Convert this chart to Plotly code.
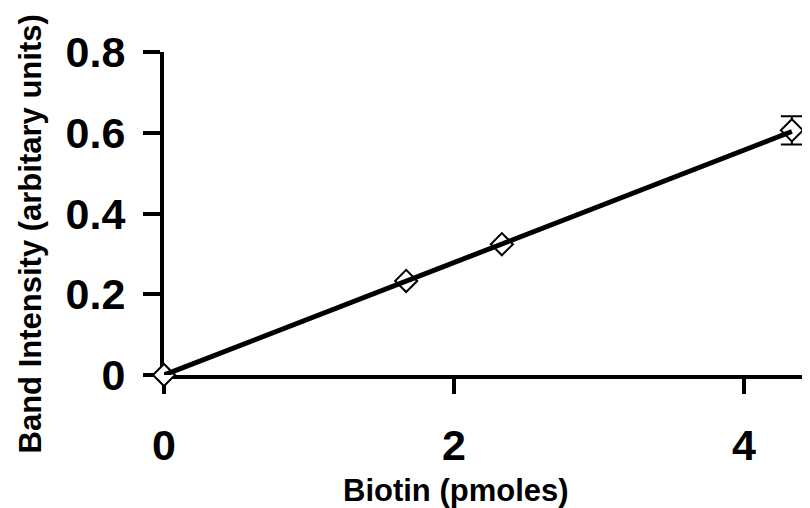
import plotly.graph_objects as go

biotin_pmol = [0, 1.67, 2.33, 4.33]
band_intensity = [0, 0.233, 0.324, 0.606]
band_error = [0, 0, 0, 0.035]

fit_x = [0, 4.33]
fit_y = [0, 0.603]

x_ticks = [0, 2, 4]
x_tick_labels = ["0", "2", "4"]
y_ticks = [0, 0.2, 0.4, 0.6, 0.8]
y_tick_labels = ["0", "0.2", "0.4", "0.6", "0.8"]

FONT = "Liberation Sans, Arial, sans-serif"

fig = go.Figure()
fig.add_trace(go.Scatter(
    x=biotin_pmol, y=band_intensity, mode="markers",
    marker=dict(symbol="diamond", size=17, color="white",
                line=dict(color="black", width=2)),
    error_y=dict(type="data", array=band_error, visible=True,
                 color="black", thickness=2, width=11),
    cliponaxis=False, showlegend=False,
))
fig.add_trace(go.Scatter(
    x=fit_x, y=fit_y, mode="lines",
    line=dict(color="black", width=5),
    cliponaxis=False, showlegend=False,
))

# page body has an 8px default margin, so the figure is sized/offset for it
fig.update_layout(
    width=802, height=500,
    margin=dict(l=156, r=0, t=44, b=133),
    paper_bgcolor="white", plot_bgcolor="white",
    font=dict(family=FONT, color="black"),
    annotations=[
        dict(text="<b>Biotin (pmoles)</b>", xref="paper", yref="paper",
             x=0.452, y=-0.359, xanchor="center", yanchor="middle",
             showarrow=False, font=dict(size=31, family=FONT)),
        dict(text="<b>Band Intensity (arbitary units)</b>", xref="paper", yref="paper",
             x=-0.206, y=0.438, xanchor="center", yanchor="middle", textangle=-90,
             showarrow=False, font=dict(size=31, family=FONT)),
    ],
)
fig.update_xaxes(
    range=[0, 4.455], showgrid=False, zeroline=False, automargin=False,
    showline=True, linecolor="black", linewidth=4,
    ticks="outside", ticklen=15, tickwidth=4, tickcolor="black",
    tickvals=x_ticks, ticktext=["<b>%s</b>" % t for t in x_tick_labels],
    tickfont=dict(size=43, family=FONT, color="black"),
    ticklabelstandoff=14,
    layer="below traces",
)
fig.update_yaxes(
    range=[0, 0.8], showgrid=False, zeroline=False, automargin=False,
    showline=True, linecolor="black", linewidth=4,
    ticks="outside", ticklen=17, tickwidth=4, tickcolor="black",
    tickvals=y_ticks, ticktext=["<b>%s</b>" % t for t in y_tick_labels],
    tickfont=dict(size=43, family=FONT, color="black"),
    ticklabelstandoff=9,
    layer="below traces",
)

fig.write_html("out.html")
